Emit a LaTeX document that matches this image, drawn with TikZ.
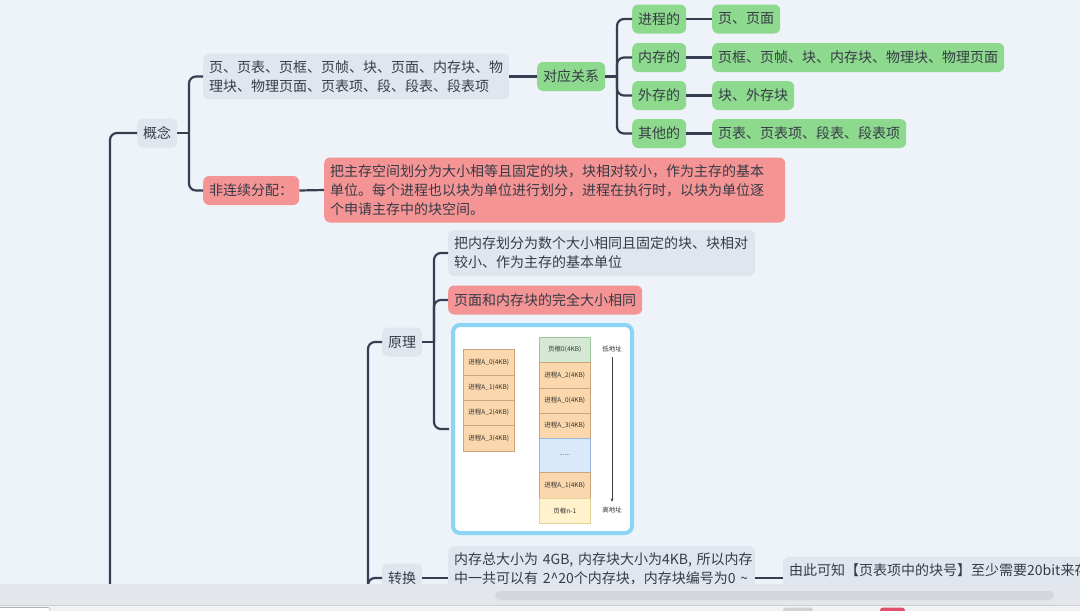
\documentclass[tikz,border=0pt]{standalone}
\usepackage{fontspec}
\setmainfont{Noto Sans CJK SC}
\usetikzlibrary{arrows.meta}
\definecolor{bgc}{HTML}{EDF3F8}
\definecolor{grayf}{HTML}{E1E6EE}
\definecolor{greenf}{HTML}{8DD98D}
\definecolor{redf}{HTML}{F59494}
\definecolor{linec}{HTML}{353F51}
\definecolor{txtc}{HTML}{363B46}
\definecolor{framec}{HTML}{8AD4F5}
\definecolor{orangef}{HTML}{FAD7AC}
\definecolor{oranged}{HTML}{C9A57E}
\definecolor{cgreenf}{HTML}{D5E8D4}
\definecolor{cgreend}{HTML}{9CC79A}
\definecolor{cbluef}{HTML}{DAE8FC}
\definecolor{cblued}{HTML}{9DB7DB}
\definecolor{cyellowf}{HTML}{FFF2CC}
\definecolor{cyellowd}{HTML}{E5D29A}
\definecolor{stripc}{HTML}{E3E6EB}
\definecolor{stripl}{HTML}{CDD0D5}
\definecolor{bottomc}{HTML}{F1F2F4}
\definecolor{scrollc}{HTML}{D3D6DB}
\definecolor{tabred}{HTML}{E0506A}
\tikzset{
  conn/.style={draw=linec, line width=2.2pt, rounded corners=7pt},
  box/.style={rounded corners=6pt, text=txtc, inner xsep=6pt, inner ysep=7pt,
              font=\fontsize{14}{19}\selectfont, anchor=west},
  single/.style={box, minimum height=29pt, inner ysep=0pt},
  topic/.style={single, fill=grayf},
  grn/.style={single, fill=greenf},
  rd/.style={single, fill=redf},
  para/.style={box, align=left},
  cell/.style={draw=oranged, fill=orangef, line width=0.5pt, minimum width=51pt,
               inner sep=0pt, anchor=north west, text=black!80,
               font=\fontsize{6.5}{7}\selectfont},
  tiny/.style={text=black!80, inner sep=0pt, font=\fontsize{6.5}{7}\selectfont},
}
\begin{document}
\begin{tikzpicture}[x=1pt,y=-1pt]
\useasboundingbox (0,0) rectangle (1080,611);
\clip (0,0) rectangle (1080,611);
\fill[bgc] (0,0) rectangle (1080,611);

% ---------- first branch: 概念
\node[topic, minimum width=40pt] (gn) at (137,133) {概念};
\node[para, fill=grayf, text width=294pt] (t1) at (203,76.5)
  {页、页表、页框、页帧、块、页面、内存块、物\\理块、物理页面、页表项、段、段表、段表项};
\node[rd, minimum width=96pt] (fl) at (203,190.5) {非连续分配：};
\node[para, fill=redf, text width=449pt] (rb) at (324,190)
  {把主存空间划分为大小相等且固定的块，块相对较小，作为主存的基本\\单位。每个进程也以块为单位进行划分，进程在执行时，以块为单位逐\\个申请主存中的块空间。};
\node[grn, minimum width=68pt] (dy) at (537,76.5) {对应关系};
\node[grn, minimum width=54pt] (c1) at (632,19) {进程的};
\node[grn, minimum width=54pt] (c2) at (632,57.5) {内存的};
\node[grn, minimum width=54pt] (c3) at (632,95.5) {外存的};
\node[grn, minimum width=54pt] (c4) at (632,133.5) {其他的};
\node[grn] (l1) at (712,19) {页、页面};
\node[grn] (l2) at (712,57.5) {页框、页帧、块、内存块、物理块、物理页面};
\node[grn] (l3) at (712,95.5) {块、外存块};
\node[grn] (l4) at (712,133.5) {页表、页表项、段表、段表项};

\coordinate (j0) at (110,640);
\coordinate (j1) at (189,133);
\coordinate (j2) at (617,76.5);
\draw[conn] (gn.west) -| (j0);
\draw[conn] (gn.east) -- (j1);
\draw[conn] (j1) |- (t1.west);
\draw[conn] (j1) |- (fl.west);
\draw[conn] (fl.east) -- (rb.west);
\draw[conn] (t1.east) -- (dy.west);
\draw[conn] (dy.east) -- (j2);
\foreach \c in {c1,c2,c3,c4} \draw[conn] (j2) |- (\c.west);
\draw[conn] (c1.east) -- (l1.west);
\draw[conn] (c2.east) -- (l2.west);
\draw[conn] (c3.east) -- (l3.west);
\draw[conn] (c4.east) -- (l4.west);

% ---------- second branch: 原理 / 转换
\node[topic, minimum width=40pt] (yl) at (382,342) {原理};
\node[para, fill=grayf, text width=295pt] (p1) at (448,253)
  {把内存划分为数个大小相同且固定的块、块相对\\较小、作为主存的基本单位};
\node[rd] (p2) at (448,300) {页面和内存块的完全大小相同};
\node[draw=framec, line width=4pt, fill=white, rounded corners=7pt,
      minimum width=179pt, minimum height=208pt, anchor=west] (img) at (451,429) {};

% picture content
\node[cell, minimum height=25.5pt] (a0) at (463,349) {进程A\_0(4KB)};
\node[cell, minimum height=25pt] (a1) at (463,374.5) {进程A\_1(4KB)};
\node[cell, minimum height=25.5pt] (a2) at (463,399.5) {进程A\_2(4KB)};
\node[cell, minimum height=26pt] (a3) at (463,425) {进程A\_3(4KB)};
\node[cell, fill=cgreenf, draw=cgreend, minimum height=25pt] (m0) at (539,337) {页框0(4KB)};
\node[cell, minimum height=26pt] (m1) at (539,362) {进程A\_2(4KB)};
\node[cell, minimum height=25pt] (m2) at (539,388) {进程A\_0(4KB)};
\node[cell, minimum height=25pt] (m3) at (539,413) {进程A\_3(4KB)};
\node[cell, fill=cbluef, draw=cblued, minimum height=34pt] (m4) at (539,438) {......};
\node[cell, minimum height=26pt] (m5) at (539,472) {进程A\_1(4KB)};
\node[cell, fill=cyellowf, draw=cyellowd, minimum height=25pt] (m6) at (539,498) {页框n-1};
\node[tiny] (lo) at (612,349) {低地址};
\node[tiny] (hi) at (612,510) {高地址};
\draw[line width=0.5pt, draw=black!75, -{Stealth[length=3.5pt,width=3pt]}]
  ([yshift=-5pt]lo.south) -- ([yshift=5pt]hi.north);

\node[topic, minimum width=40pt] (zh) at (382,578) {转换};
\node[para, fill=grayf, text width=295pt, anchor=north west] (zt) at (448,546)
  {\mbox{内存总大小为 4GB, 内存块大小为4KB, 所以内存}\\\mbox{中一共可以有 2\textasciicircum20个内存块，内存块编号为0 \textasciitilde}\\\mbox{}};
\node[para, fill=grayf, text width=320pt] (zb) at (783,579)
  {\mbox{由此可知【页表项中的块号】至少需要20bit来存}\\\mbox{}};

\coordinate (j3) at (434,342);
\coordinate (j4) at (368,640);
\draw[conn] (yl.west) -| (j4);
\draw[conn] (zh.west) -| (j4);
\draw[conn] (yl.east) -- (j3);
\draw[conn] (j3) |- (p1.west);
\draw[conn] (j3) |- (p2.west);
\draw[conn] (j3) |- ([xshift=-2pt]img.west);
\draw[conn] (zh.east) -- (zh.east -| zt.west);
\draw[conn] (zt.east) -- (zt.east -| zb.west);

% ---------- window strip at the bottom
\fill[stripc] (0,584) rectangle (1080,605);
\draw[stripl, line width=1pt] (0,605.5) -- (1080,605.5);
\fill[bottomc] (0,606) rectangle (1080,611);
\fill[scrollc, rounded corners=4.5pt] (495,591) rectangle (1054,600);
\filldraw[fill=white, draw=black!30, line width=0.6pt, rounded corners=2pt] (-3,607.5) rectangle (50,616);
\fill[black!18, rounded corners=3pt] (783,607.5) rectangle (813,616);
\fill[tabred, rounded corners=3pt] (880,607.5) rectangle (905,616);
\end{tikzpicture}
\end{document}
